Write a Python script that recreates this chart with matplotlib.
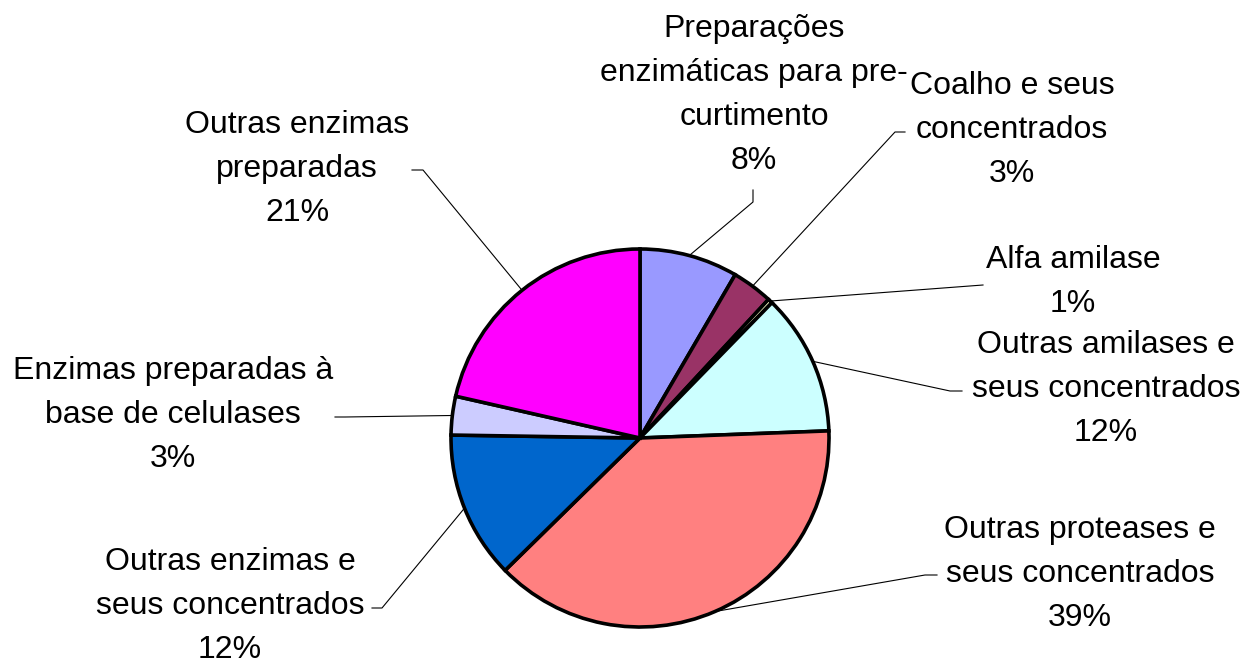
import numpy as np
import matplotlib
matplotlib.use("Agg")
import matplotlib.pyplot as plt

# parts des importations d'enzimas (%)
nomes = ["Preparações\nenzimáticas para pre-\ncurtimento",
         "Coalho e seus\nconcentrados",
         "Alfa amilase",
         "Outras amilases e\nseus concentrados",
         "Outras proteases e\nseus concentrados",
         "Outras enzimas e\nseus concentrados",
         "Enzimas preparadas à\nbase de celulases",
         "Outras enzimas\npreparadas"]
valores = [8.4, 3.5, 0.4, 12.1, 38.25, 12.6, 3.3, 21.45]
pct = ["8%", "3%", "1%", "12%", "39%", "12%", "3%", "21%"]
cores = ["#9999FF", "#993366", "#FFFFCC", "#CCFFFF",
         "#FF8080", "#0066CC", "#CCCCFF", "#FF00FF"]

W, H = 1249, 664
def py(y):
    return H - y

# position des etiquettes (pixels, y vers le bas)
txt_pos = [(754, 95), (1012, 130), (1073, 282), (1106, 389),
           (1080, 574), (230, 606), (173, 415), (297, 169)]
coude = [(753, 202), (895, 132), (983, 285), (950, 391),
         (925, 575), (382, 608), (345, 417), (423, 170)]
bout = [(753, 190), (905, 132), (983, 285), (962, 391),
        (937, 575), (372, 608), (335, 417), (412, 170)]

plt.rcParams['font.family'] = ['Liberation Sans', 'DejaVu Sans']

fig = plt.figure(figsize=(W/100, H/100), dpi=100)
ax = fig.add_axes([0, 0, 1, 1])

cx, cy, R = 640, py(438), 189
wedges, _ = ax.pie(valores, colors=cores, startangle=90, counterclock=False,
                   center=(cx, cy), radius=R, frame=True,
                   wedgeprops=dict(edgecolor="black", linewidth=2.6))
ax.set_xlim(0, W)
ax.set_ylim(0, H)
ax.set_aspect("equal")
ax.axis("off")

for i, w in enumerate(wedges):
    a = np.radians((w.theta1 + w.theta2) / 2)
    x0, y0 = cx + R*np.cos(a), cy + R*np.sin(a)
    ex, ey = coude[i]
    bx, by = bout[i]
    ax.plot([x0, ex, bx], [y0, py(ey), py(by)], color="black", lw=0.8, zorder=0)
    tx, ty = txt_pos[i]
    ax.text(tx, py(ty), nomes[i] + "\n" + pct[i], ha="center", va="center",
            fontsize=23, linespacing=1.6)

plt.savefig("out.png", dpi=100)
